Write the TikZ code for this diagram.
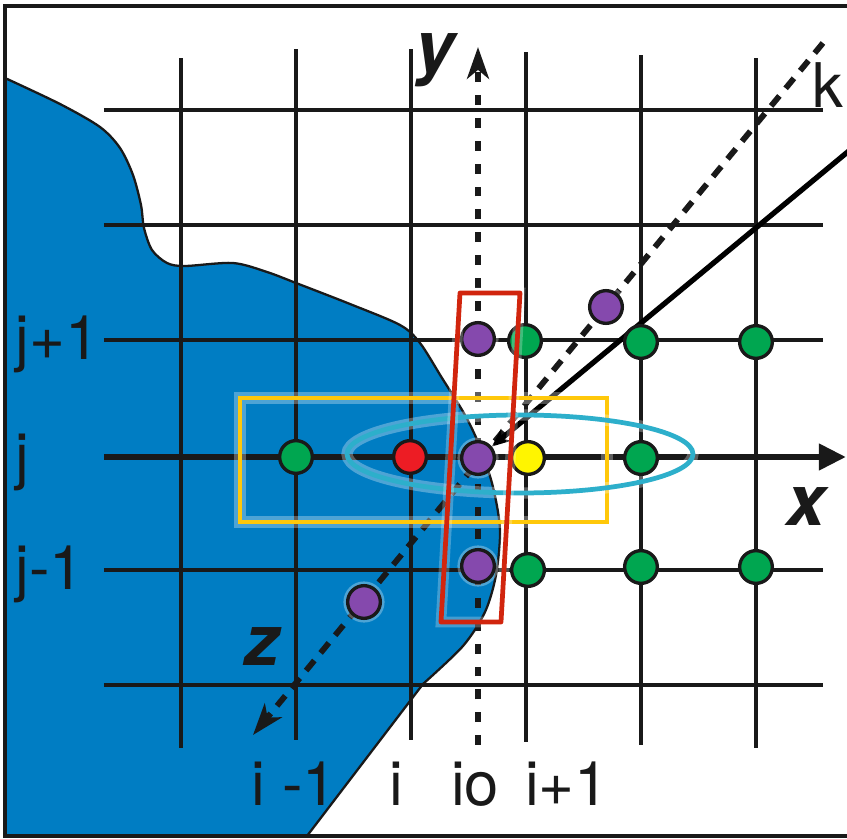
\documentclass[tikz,border=0pt]{standalone}
\usepackage{fontspec}
\newfontfamily\lblfont{TeX Gyre Heros}
\usepackage{tikz}
\usetikzlibrary{arrows.meta,backgrounds}
\definecolor{seablue}{HTML}{007DC3}
\definecolor{dotgreen}{HTML}{00A650}
\definecolor{dotred}{HTML}{ED1C24}
\definecolor{dotpurple}{HTML}{8549AD}
\definecolor{dotyellow}{HTML}{FFF500}
\definecolor{boxyellow}{HTML}{FFC80A}
\definecolor{boxred}{HTML}{D1250E}
\definecolor{ringcyan}{HTML}{2DAFCB}

\begin{document}
\begin{tikzpicture}[x=0.01cm,y=-0.01cm,
    grid/.style={line width=0.95pt,draw=black!90},
    dot/.style={circle,draw=black!90,line width=0.95pt,minimum size=9.3pt,inner sep=0pt},
    gdot/.style={dot,fill=dotgreen},
    pdot/.style={dot,fill=dotpurple,preaction={draw=white,opacity=0.3,line width=2.4pt}},
    axis/.style={line width=1.8pt,draw=black!90,-{Triangle[length=7.7pt,width=7.2pt]}},
    yaxis/.style={line width=1.75pt,draw=black!90,dash pattern=on 2.8pt off 3.7pt,
      -{Stealth[length=9pt,width=6.2pt,inset=2.5pt]}},
    kaxis/.style={line width=1.65pt,draw=black!90,dash pattern=on 3.7pt off 2.8pt,
      -{Stealth[length=9pt,width=6.2pt,inset=2.5pt]}},
    ray/.style={line width=1.5pt,draw=black,-{Stealth[length=5.2pt,width=4.4pt]}},
    yellowbox/.style={draw=boxyellow,line width=1.35pt,preaction={draw=white,opacity=0.3,line width=3.2pt}},
    redbox/.style={draw=boxred,line width=1.35pt,line join=round,preaction={draw=white,opacity=0.25,line width=3pt}},
    ring/.style={draw=ringcyan,line width=1.35pt,preaction={draw=white,opacity=0.3,line width=3.2pt}},
    lbl/.style={font=\lblfont\fontsize{17.5}{20}\selectfont,inner sep=0pt,text=black!90},
    axlbl/.style={font=\lblfont\bfseries\itshape\fontsize{20}{22}\selectfont,inner sep=0pt,text=black!90}
  ]
  \useasboundingbox (0,0) rectangle (847,839);

  % mesh points
  \node[gdot] (g-im1-j) at (296,457) {};
  \node[dot,fill=dotred] (r-i-j) at (410,457) {};
  \node[pdot] (p-io-j) at (478,458) {};
  \node[dot,fill=dotyellow] (y-ip1-j) at (528,458) {};
  \node[gdot] (g-ip2-j) at (641,458) {};
  \node[pdot] (p-io-jp1) at (478,339) {};
  \node[gdot] (g-ip1-jp1) at (525,341) {};
  \node[gdot] (g-ip2-jp1) at (641,342) {};
  \node[gdot] (g-ip3-jp1) at (756,342) {};
  \node[pdot] (p-io-jm1) at (478,566) {};
  \node[gdot] (g-ip1-jm1) at (528,570) {};
  \node[gdot] (g-ip2-jm1) at (641,567) {};
  \node[gdot] (g-ip3-jm1) at (756,567) {};
  \node[pdot] (p-k-up) at (606,307) {};
  \node[pdot] (p-k-dn) at (364,602) {};

  \begin{scope}[on background layer]
    \fill[white] (0,0) rectangle (847,839);
    % flooded part
    \filldraw[fill=seablue,draw=black!90,line width=0.65pt]
      plot[smooth,tension=0.5] coordinates {(5,78) (60,104) (100,127) (120,148) (133,175)
        (141,205) (144,228) (152,250) (167,263) (185,266) (233,263) (267,272) (296,283)
        (350,304) (400,325) (420,343) (442,378) (465,415) (480,447) (493,487) (500,530)
        (496,575) (485,612) (463,646) (423,684)}
      -- (307,836) -- (5,836) -- cycle;
    % mesh lines
    \foreach \gx/\gt/\gb in {181/58/748,296/49/740,411/49/740,526/52/742,641/55/745,756/58/748}
      \draw[grid] (\gx,\gt) -- (\gx,\gb);
    \foreach \gy in {110,225,340,570,685}
      \draw[grid] (104,\gy) -- (823,\gy);
    % axes
    \coordinate (xfrom) at (104,457);
    \coordinate (xto) at (846,457);
    \coordinate (yfrom) at (478,745);
    \coordinate (yto) at (478,47);
    \coordinate (kfrom) at (823,43);
    \coordinate (zto) at (253,735);
    \coordinate (rayfrom) at (850,150);
    \draw[axis] (xfrom) -- (xto);
    \draw[yaxis] (yfrom) -- (yto);
    \draw[kaxis] (kfrom) -- (zto);
    \draw[ray] (rayfrom) -- (p-io-j);
    % stencils
    \draw[yellowbox] (240,398) rectangle (607,522);
    \draw[ring] (520,454) ellipse [x radius=173,y radius=39];
  \end{scope}

  \draw[redbox] (460,293) -- (520,293) -- (501,622) -- (441,622) -- cycle;

  % indices
  \node[lbl,anchor=base west] (lbl-jp1) at (15,360) {j+1};
  \node[lbl,anchor=base west] (lbl-j) at (15,478) {j};
  \node[lbl,anchor=base west] (lbl-jm1) at (15,590) {j-1};
  \node[lbl,anchor=base] (lbl-im1) at (294,806) {i -1};
  \node[lbl,anchor=base] (lbl-i) at (396,806) {i};
  \node[lbl,anchor=base] (lbl-io) at (475,806) {io};
  \node[lbl,anchor=base] (lbl-ip1) at (567,806) {i+1};
  \node[lbl] (lbl-k) at (828,85) {k};
  \node[axlbl] (lbl-x) at (806,507) {x};
  \node[axlbl] (lbl-y) at (435,60) {y};
  \node[axlbl] (lbl-z) at (262,647) {z};

  % frame
  \draw[line width=0.95pt,draw=black!90] (849,6) -- (5,6) -- (5,836) -- (849,836);
\end{tikzpicture}
\end{document}
